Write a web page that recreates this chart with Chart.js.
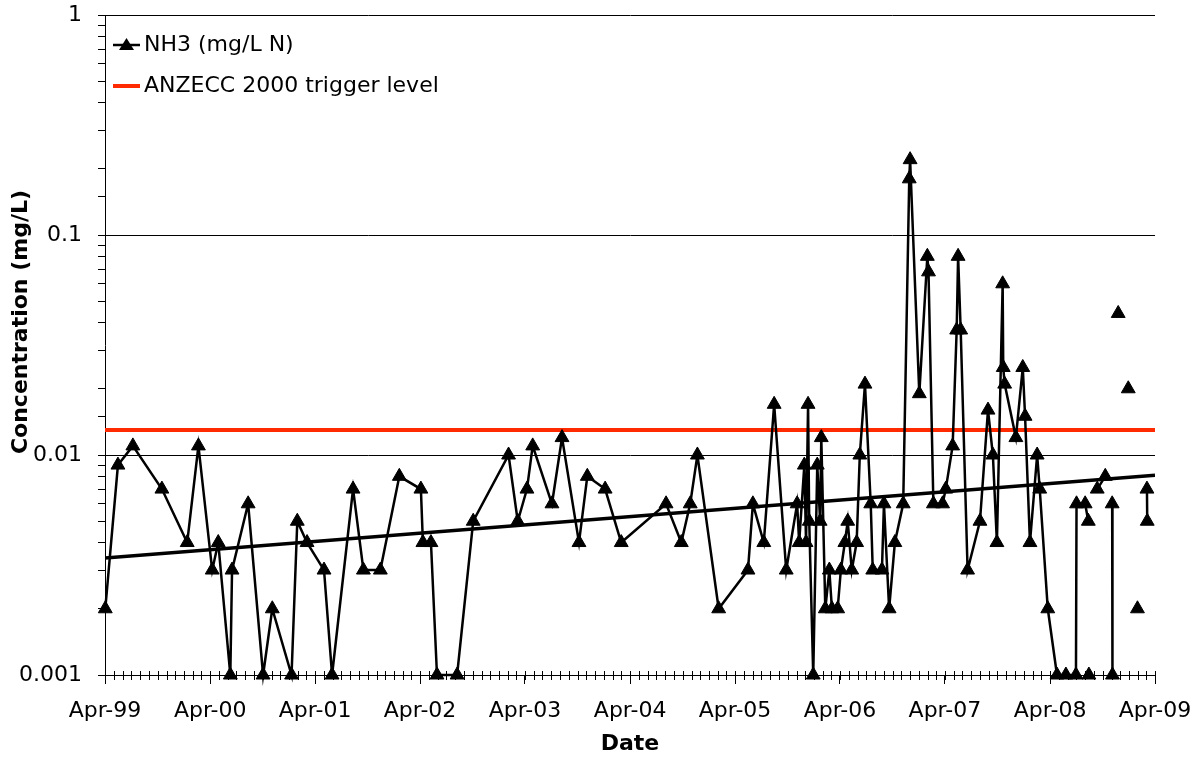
<!DOCTYPE html>
<html>
<head>
<meta charset="utf-8">
<script src="https://cdn.jsdelivr.net/npm/chart.js@4.4.0/dist/chart.umd.min.js"></script>
<style>
  html, body { margin: 0; padding: 0; background: #fff; }
</style>
</head>
<body>
<canvas id="nh3Chart" width="1193" height="758"></canvas>
<script>
// sampling dates and NH3 results (null = no result, breaks the line)
const sampleDates = [
  '1999-04-02', '1999-05-16', '1999-07-07', '1999-10-16', '2000-01-12', '2000-02-20',
  '2000-04-08', '2000-04-29', '2000-06-10', '2000-06-16', '2000-08-11', '2000-10-02', '2000-11-03', '2001-01-09', '2001-01-29', '2001-03-04',
  '2001-05-02', '2001-05-30', '2001-08-11', '2001-09-16', '2001-11-14', '2002-01-19',
  '2002-04-04', '2002-04-11', '2002-05-09', '2002-05-30', '2002-08-08', '2002-10-03', '2003-02-03', '2003-03-07',
  '2003-04-08', '2003-04-28', '2003-07-04', '2003-08-08', '2003-10-06', '2003-11-04', '2004-01-05', '2004-03-01',
  '2004-08-04', '2004-09-26', '2004-10-27', '2004-11-21', '2005-02-03',
  '2005-05-16', '2005-06-02', '2005-07-10', '2005-08-15', '2005-09-26', '2005-11-03', '2005-11-10', '2005-11-28',
  '2005-12-04', '2005-12-11', '2005-12-15', '2005-12-29', '2006-01-12', '2006-01-22', '2006-01-26', '2006-02-09',
  '2006-02-23', '2006-03-04', '2006-03-24',
  '2006-04-04', '2006-04-18', '2006-04-28', '2006-05-12', '2006-05-29', '2006-06-09', '2006-06-27', '2006-07-17',
  '2006-07-24', '2006-08-25', '2006-09-01', '2006-09-19', '2006-10-09', '2006-11-07', '2006-11-28', '2006-12-01',
  '2007-01-02', '2007-01-30', '2007-02-03', '2007-02-20', '2007-03-24',
  '2007-04-04', '2007-04-28', '2007-05-12', '2007-05-17', '2007-05-26', '2007-06-19', '2007-08-01', '2007-08-29',
  '2007-09-15', '2007-09-29', '2007-10-19', '2007-10-21', '2007-10-26', '2007-12-04', '2007-12-28', '2008-01-05',
  '2008-01-22', '2008-02-16', '2008-02-25', '2008-03-24',
  '2008-04-25', '2008-05-26', '2008-06-30', '2008-07-02', '2008-08-01', '2008-08-12', '2008-08-13', '2008-08-14',
  '2008-08-20', '2008-09-12', '2008-10-10', '2008-10-20', '2008-11-03', '2008-11-04', '2008-11-10', '2008-11-24',
  '2008-12-10', '2008-12-29', '2009-01-15', '2009-01-30', '2009-02-15', '2009-03-04', '2009-03-05'
];
const nh3Values = [
  0.002, 0.009, 0.011, 0.007, 0.004, 0.011,
  0.003, 0.004, 0.001, 0.003, 0.006, 0.001, 0.002, 0.001, 0.005, 0.004,
  0.003, 0.001, 0.007, 0.003, 0.003, 0.008,
  0.007, 0.004, 0.004, 0.001, 0.001, 0.005, 0.010, 0.005,
  0.007, 0.011, 0.006, 0.012, 0.004, 0.008, 0.007, 0.004,
  0.006, 0.004, 0.006, 0.010, 0.002,
  0.003, 0.006, 0.004, 0.017, 0.003, 0.006, 0.004, 0.009,
  0.004, 0.017, 0.005, 0.001, 0.009, 0.005, 0.012, 0.002,
  0.003, 0.002, 0.002,
  0.003, 0.004, 0.005, 0.003, 0.004, 0.010, 0.021, 0.006,
  0.003, 0.003, 0.006, 0.002, 0.004, 0.006, 0.18, 0.22,
  0.019, 0.080, 0.068, 0.006, 0.006,
  0.007, 0.011, 0.037, 0.080, 0.037, 0.003, 0.005, 0.016,
  0.010, 0.004, 0.060, 0.025, 0.021, 0.012, 0.025, 0.015,
  0.004, 0.010, 0.007, 0.002,
  0.001, 0.001, 0.001, 0.006, 0.006, 0.005, null, 0.001,
  null, 0.007, 0.008, null, 0.006, 0.001, null, 0.044,
  null, 0.020, null, 0.002, null, 0.007, 0.005
];

const triggerLevel = 0.013;
// exponential trend line, values at the two ends of the axis
const trendValues = [0.0034, 0.0081];

const xTickLabels = ['Apr-99', 'Apr-00', 'Apr-01', 'Apr-02', 'Apr-03', 'Apr-04',
  'Apr-05', 'Apr-06', 'Apr-07', 'Apr-08', 'Apr-09'];
const yTickLabels = ['0.001', '0.01', '0.1', '1'];
const legendNames = ['NH3 (mg/L N)', 'ANZECC 2000 trigger level'];

const axisStart = Date.UTC(1999, 3, 1);
const axisEnd = Date.UTC(2009, 3, 1);
const yearTicks = xTickLabels.map((lab, i) => Date.UTC(1999 + i, 3, 1));

const nh3Points = sampleDates.map((d, i) => ({ x: Date.parse(d), y: nh3Values[i] }));

const isDecade = v => Math.abs(Math.log10(v) - Math.round(Math.log10(v))) < 1e-6;

Chart.defaults.font.family = "'DejaVu Sans', Verdana, sans-serif";
Chart.defaults.font.size = 22;
Chart.defaults.color = '#000';

// monthly minor ticks crossing the date axis
const monthTicks = {
  id: 'monthTicks',
  beforeDatasetsDraw(chart) {
    const { ctx, scales: { x } } = chart;
    const y0 = x.top;
    ctx.save();
    ctx.strokeStyle = '#000';
    ctx.lineWidth = 1;
    ctx.beginPath();
    for (let m = 0; m <= 120; m++) {
      const px = Math.round(x.getPixelForValue(Date.UTC(1999, 3 + m, 1))) + 0.5;
      ctx.moveTo(px, y0 - 4);
      ctx.lineTo(px, y0 + 5);
    }
    ctx.stroke();
    ctx.restore();
  }
};

// legend sitting inside the plot, top left
const innerLegend = {
  id: 'innerLegend',
  afterDraw(chart) {
    const { ctx, chartArea } = chart;
    const x0 = chartArea.left + 8;
    const x1 = chartArea.left + 35;
    const xt = chartArea.left + 39;
    const rows = [chartArea.top + 30, chartArea.top + 71];
    const ds = chart.data.datasets;
    ctx.save();
    // NH3 sample: line with triangle
    ctx.strokeStyle = ds[0].borderColor;
    ctx.lineWidth = 2.5;
    ctx.beginPath();
    ctx.moveTo(x0, rows[0]);
    ctx.lineTo(x1, rows[0]);
    ctx.stroke();
    const cx = (x0 + x1) / 2;
    ctx.fillStyle = ds[0].backgroundColor;
    ctx.beginPath();
    ctx.moveTo(cx, rows[0] - 7);
    ctx.lineTo(cx + 7.5, rows[0] + 5);
    ctx.lineTo(cx - 7.5, rows[0] + 5);
    ctx.closePath();
    ctx.fill();
    // trigger sample
    ctx.strokeStyle = ds[1].borderColor;
    ctx.lineWidth = 4;
    ctx.beginPath();
    ctx.moveTo(x0, rows[1]);
    ctx.lineTo(x1, rows[1]);
    ctx.stroke();
    ctx.fillStyle = '#000';
    ctx.font = "22px 'DejaVu Sans', Verdana, sans-serif";
    ctx.textBaseline = 'middle';
    ctx.textAlign = 'left';
    ctx.fillText(legendNames[0], xt, rows[0]);
    ctx.fillText(legendNames[1], xt, rows[1]);
    ctx.restore();
  }
};

new Chart(document.getElementById('nh3Chart'), {
  type: 'line',
  data: {
    datasets: [
      {
        label: legendNames[0],
        data: nh3Points,
        borderColor: '#000',
        backgroundColor: '#000',
        borderWidth: 2.5,
        pointStyle: 'triangle',
        pointRadius: 8,
        pointBorderWidth: 1,
        spanGaps: false,
        tension: 0,
        clip: false
      },
      {
        label: legendNames[1],
        data: [{ x: axisStart, y: triggerLevel }, { x: axisEnd, y: triggerLevel }],
        borderColor: '#ff2a00',
        backgroundColor: '#ff2a00',
        borderWidth: 4,
        pointRadius: 0,
        clip: false
      },
      {
        label: 'Trend',
        data: [{ x: axisStart, y: trendValues[0] }, { x: axisEnd, y: trendValues[1] }],
        borderColor: '#000',
        borderWidth: 3.5,
        pointRadius: 0
      }
    ]
  },
  options: {
    responsive: false,
    animation: false,
    events: [],
    layout: { padding: { top: 15, right: 38, left: 0, bottom: 0 } },
    plugins: {
      legend: { display: false },
      tooltip: { enabled: false }
    },
    scales: {
      x: {
        type: 'linear',
        min: axisStart,
        max: axisEnd,
        afterBuildTicks: axis => { axis.ticks = yearTicks.map(v => ({ value: v })); },
        afterFit: axis => {
          axis.height = 83;
          axis.paddingLeft = 0;
          axis.paddingRight = 0;
        },
        ticks: {
          autoSkip: false,
          maxRotation: 0,
          padding: 14,
          callback: (v, i) => xTickLabels[i]
        },
        grid: { drawOnChartArea: false, drawTicks: true, tickLength: 9, tickColor: '#000', tickWidth: 1 },
        border: { color: '#000', width: 1 },
        title: {
          display: true,
          text: 'Date',
          font: { size: 22, weight: 'bold' },
          padding: { top: 0, bottom: 1 }
        }
      },
      y: {
        type: 'logarithmic',
        min: 0.001,
        max: 1,
        afterFit: axis => {
          axis.width = 105;
          axis.paddingTop = 0;
          axis.paddingBottom = 0;
        },
        ticks: {
          autoSkip: false,
          padding: 16,
          callback: v => isDecade(v) ? yTickLabels[Math.round(Math.log10(v)) + 3] : ''
        },
        grid: {
          color: c => (c.tick && isDecade(c.tick.value)) ? '#000' : 'rgba(0,0,0,0)',
          tickColor: '#000',
          tickLength: 7,
          lineWidth: 1
        },
        border: { color: '#000', width: 1 },
        title: {
          display: true,
          text: '      Concentration (mg/L)',
          font: { size: 22, weight: 'bold' },
          padding: { top: 8, bottom: 0 }
        }
      }
    }
  },
  plugins: [monthTicks, innerLegend]
});
</script>
</body>
</html>
